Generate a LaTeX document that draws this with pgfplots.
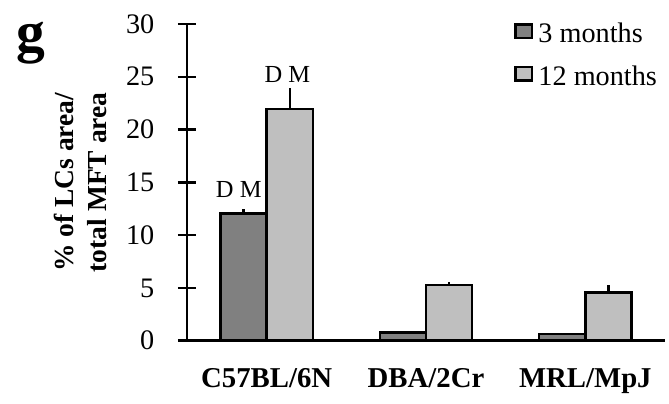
\documentclass[border=0pt]{standalone}
\usepackage{fontspec}
\setmainfont{Liberation Serif}
\usepackage{pgfplots}
\pgfplotsset{compat=1.18}
\definecolor{darkbar}{gray}{0.5}
\definecolor{lightbar}{gray}{0.75}
\pgfplotstableread{
x y e
0 12.06 0.41
1 0.76 0.05
2 0.63 0.03
}\threemonths
\pgfplotstableread{
x y e
0 21.94 2.0
1 5.27 0.33
2 4.55 0.72
}\twelvemonths
\begin{document}
\fontsize{11.3}{13.6}\selectfont
\begin{tikzpicture}
\begin{axis}[
 scale only axis, width=191.2pt, height=126.7pt,
 xmin=-0.5, xmax=2.5, ymin=0, ymax=30,
 axis x line=bottom, axis y line=left,
 axis line style={-, line width=1pt},
 xtick={0,1,2}, xticklabels={C57BL/6N, DBA/2Cr, MRL/MpJ},
 xticklabel style={font=\fontsize{11.5}{13}\selectfont\bfseries},
 xtick style={draw=none},
 ytick={0,5,...,30},
 yticklabel style={font=\fontsize{11.3}{13.6}\selectfont, xshift=-5.5pt},
 ytick style={line width=1pt, black},
 tick align=center, major tick length=7.2pt,
 /pgf/number format/assume math mode=true,
 ybar=0pt, bar width=0.29,
 every axis y label/.style={at={(axis description cs:-0.167,0.5)}, rotate=90, anchor=south, align=center, inner sep=0pt, font=\fontsize{11}{13.2}\selectfont\bfseries},
 ylabel={\% of LCs area/\\total MFT area},
 legend style={at={(axis description cs:0.684,1.02)}, anchor=north west, draw=none, fill=none, row sep=3.5pt, legend cell align=left, inner sep=0pt, font=\fontsize{11.3}{13.6}\selectfont},
]
\addplot[fill=darkbar, draw=black, line width=1pt,
  legend image code/.code={\draw[fill=darkbar, draw=black, line width=1pt] (0pt,-1.2pt) rectangle (6.6pt,4.2pt);},
  error bars/.cd, y dir=plus, y explicit, error mark=none, error bar style={line width=1pt}]
  table[x=x, y=y, y error=e] {\threemonths};
\addlegendentry{3 months}
\addplot[fill=lightbar, draw=black, line width=1pt,
  legend image code/.code={\draw[fill=lightbar, draw=black, line width=1pt] (0pt,-1.2pt) rectangle (6.6pt,4.2pt);},
  error bars/.cd, y dir=plus, y explicit, error mark=none, error bar style={line width=1pt}]
  table[x=x, y=y, y error=e] {\twelvemonths};
\addlegendentry{12 months}
\node[anchor=base, font=\fontsize{9.8}{11}\selectfont] at (axis cs:-0.175,13.54) {D M};
\node[anchor=base, font=\fontsize{9.8}{11}\selectfont] at (axis cs:0.13,24.47) {D M};
\end{axis}
\node[anchor=base west, inner sep=0pt, font=\fontsize{23}{27}\selectfont\bfseries] at (-68.5pt,115.5pt) {g};
\path[use as bounding box] (-74.8pt,-20.9pt) rectangle (192.8pt,136.3pt);
\end{tikzpicture}
\end{document}
